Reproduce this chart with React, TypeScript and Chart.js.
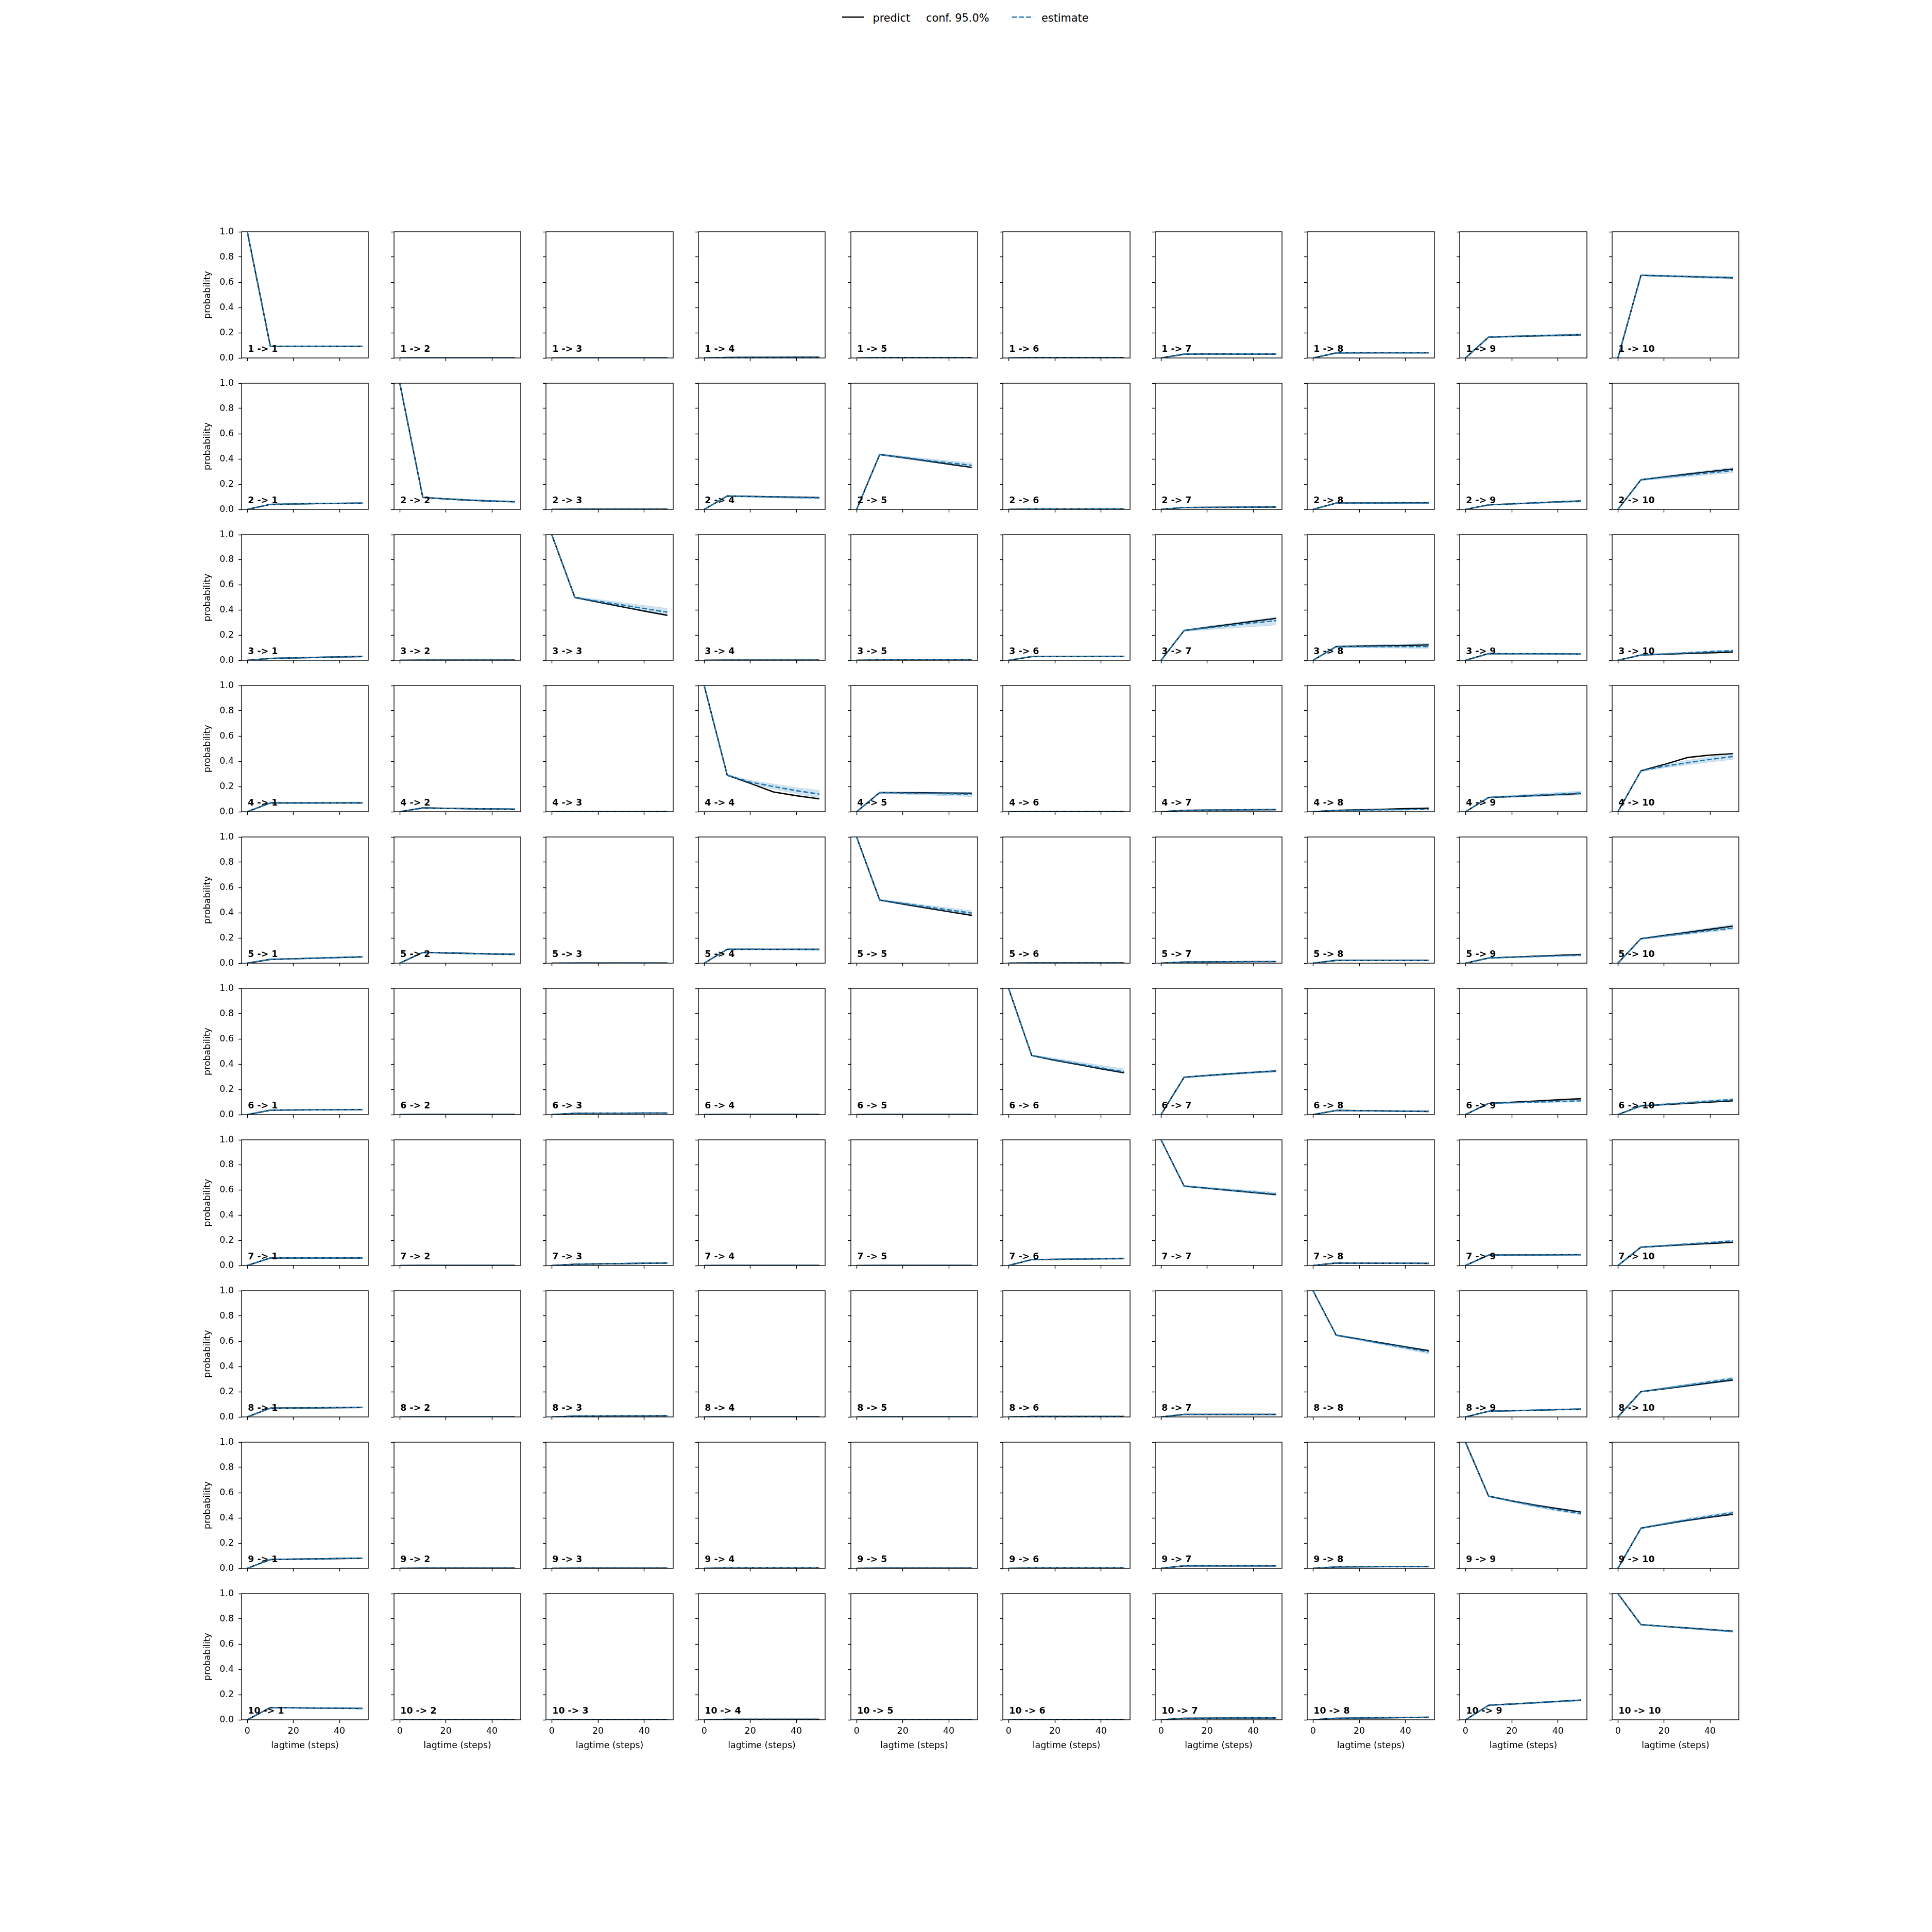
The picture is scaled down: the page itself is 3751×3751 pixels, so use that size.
import React, { useEffect, useRef } from 'react';
import { Chart, registerables } from 'chart.js';

Chart.register(...registerables);

// ---------------- data ----------------
const lagtimes = [0, 10, 20, 30, 40, 50];
const xTicks = [0, 20, 40];
const yTicks = [0, 0.2, 0.4, 0.6, 0.8, 1.0];
const stateNames = ['1', '2', '3', '4', '5', '6', '7', '8', '9', '10'];
const legendLabels = ['predict', 'conf. 95.0%', 'estimate'];
const xAxisTitle = 'lagtime (steps)';
const yAxisTitle = 'probability';

// row i -> column j, values at lagtimes
const predictFrom1 = [
  [1, 0.093, 0.093, 0.093, 0.092, 0.092],
  [0, 0.001, 0.001, 0.001, 0.001, 0.001],
  [0, 0.001, 0.001, 0.001, 0.001, 0.001],
  [0, 0.004, 0.005, 0.005, 0.006, 0.006],
  [0, 0.003, 0.003, 0.003, 0.003, 0.003],
  [0, 0.003, 0.003, 0.003, 0.003, 0.003],
  [0, 0.03, 0.031, 0.031, 0.031, 0.031],
  [0, 0.04, 0.041, 0.041, 0.041, 0.041],
  [0, 0.165, 0.17, 0.175, 0.179, 0.183],
  [0, 0.655, 0.65, 0.645, 0.64, 0.635],
];
const estimateFrom1 = [
  [1, 0.093, 0.093, 0.093, 0.093, 0.093],
  [0, 0.001, 0.001, 0.001, 0.001, 0.001],
  [0, 0.001, 0.001, 0.001, 0.001, 0.001],
  [0, 0.004, 0.005, 0.005, 0.006, 0.006],
  [0, 0.003, 0.003, 0.003, 0.003, 0.003],
  [0, 0.003, 0.003, 0.003, 0.003, 0.003],
  [0, 0.03, 0.03, 0.031, 0.031, 0.031],
  [0, 0.04, 0.04, 0.041, 0.041, 0.041],
  [0, 0.165, 0.171, 0.176, 0.18, 0.184],
  [0, 0.655, 0.65, 0.645, 0.64, 0.636],
];
const lowerFrom1 = [
  [1, 0.09, 0.089, 0.089, 0.088, 0.088],
  [0, 0, 0, 0, 0, 0],
  [0, 0, 0, 0, 0, 0],
  [0, 0.002, 0.003, 0.003, 0.003, 0.003],
  [0, 0.001, 0.001, 0.001, 0.001, 0.001],
  [0, 0.001, 0.001, 0.001, 0.001, 0.001],
  [0, 0.027, 0.027, 0.027, 0.027, 0.027],
  [0, 0.037, 0.037, 0.037, 0.037, 0.037],
  [0, 0.16, 0.165, 0.169, 0.172, 0.175],
  [0, 0.65, 0.643, 0.637, 0.631, 0.626],
];
const upperFrom1 = [
  [1, 0.096, 0.097, 0.097, 0.098, 0.098],
  [0, 0.002, 0.002, 0.002, 0.002, 0.002],
  [0, 0.002, 0.002, 0.002, 0.002, 0.002],
  [0, 0.006, 0.007, 0.008, 0.008, 0.009],
  [0, 0.005, 0.005, 0.005, 0.005, 0.005],
  [0, 0.005, 0.005, 0.005, 0.005, 0.005],
  [0, 0.033, 0.034, 0.035, 0.035, 0.035],
  [0, 0.043, 0.044, 0.045, 0.045, 0.045],
  [0, 0.17, 0.177, 0.183, 0.188, 0.193],
  [0, 0.66, 0.657, 0.653, 0.649, 0.646],
];

const predictFrom2 = [
  [0, 0.04, 0.043, 0.046, 0.048, 0.05],
  [1, 0.095, 0.083, 0.073, 0.066, 0.06],
  [0, 0.002, 0.002, 0.002, 0.002, 0.002],
  [0, 0.106, 0.103, 0.1, 0.097, 0.094],
  [0, 0.435, 0.41, 0.385, 0.358, 0.333],
  [0, 0.003, 0.003, 0.003, 0.003, 0.003],
  [0, 0.015, 0.016, 0.017, 0.018, 0.019],
  [0, 0.05, 0.051, 0.051, 0.052, 0.052],
  [0, 0.036, 0.044, 0.052, 0.06, 0.067],
  [0, 0.235, 0.257, 0.279, 0.3, 0.32],
];
const estimateFrom2 = [
  [0, 0.04, 0.043, 0.046, 0.048, 0.05],
  [1, 0.095, 0.083, 0.074, 0.067, 0.061],
  [0, 0.002, 0.002, 0.002, 0.002, 0.002],
  [0, 0.106, 0.102, 0.098, 0.094, 0.091],
  [0, 0.435, 0.413, 0.39, 0.369, 0.349],
  [0, 0.003, 0.003, 0.003, 0.003, 0.003],
  [0, 0.015, 0.016, 0.017, 0.018, 0.019],
  [0, 0.05, 0.05, 0.051, 0.051, 0.051],
  [0, 0.036, 0.043, 0.051, 0.058, 0.065],
  [0, 0.235, 0.254, 0.272, 0.29, 0.308],
];
const lowerFrom2 = [
  [0, 0.037, 0.039, 0.041, 0.043, 0.045],
  [1, 0.091, 0.078, 0.068, 0.061, 0.055],
  [0, 0.001, 0.001, 0.001, 0.001, 0.001],
  [0, 0.1, 0.096, 0.091, 0.087, 0.083],
  [0, 0.428, 0.403, 0.38, 0.355, 0.333],
  [0, 0.001, 0.001, 0.001, 0.001, 0.001],
  [0, 0.012, 0.013, 0.014, 0.014, 0.015],
  [0, 0.046, 0.046, 0.046, 0.046, 0.046],
  [0, 0.033, 0.039, 0.046, 0.052, 0.058],
  [0, 0.228, 0.243, 0.258, 0.274, 0.29],
];
const upperFrom2 = [
  [0, 0.043, 0.047, 0.051, 0.053, 0.055],
  [1, 0.099, 0.088, 0.08, 0.073, 0.067],
  [0, 0.003, 0.003, 0.003, 0.003, 0.003],
  [0, 0.112, 0.108, 0.105, 0.101, 0.099],
  [0, 0.442, 0.422, 0.403, 0.385, 0.368],
  [0, 0.005, 0.005, 0.005, 0.005, 0.005],
  [0, 0.018, 0.019, 0.02, 0.022, 0.023],
  [0, 0.054, 0.055, 0.056, 0.056, 0.057],
  [0, 0.039, 0.047, 0.056, 0.064, 0.072],
  [0, 0.242, 0.265, 0.288, 0.311, 0.333],
];

const predictFrom3 = [
  [0, 0.015, 0.019, 0.023, 0.027, 0.03],
  [0, 0.002, 0.002, 0.002, 0.002, 0.002],
  [1, 0.5, 0.463, 0.427, 0.392, 0.358],
  [0, 0.002, 0.002, 0.002, 0.002, 0.002],
  [0, 0.004, 0.004, 0.004, 0.004, 0.004],
  [0, 0.03, 0.031, 0.031, 0.032, 0.032],
  [0, 0.237, 0.262, 0.286, 0.31, 0.334],
  [0, 0.109, 0.112, 0.116, 0.119, 0.122],
  [0, 0.053, 0.052, 0.052, 0.051, 0.05],
  [0, 0.042, 0.048, 0.054, 0.06, 0.066],
];
const estimateFrom3 = [
  [0, 0.015, 0.019, 0.023, 0.027, 0.031],
  [0, 0.002, 0.002, 0.002, 0.002, 0.002],
  [1, 0.5, 0.47, 0.442, 0.412, 0.383],
  [0, 0.002, 0.002, 0.002, 0.002, 0.002],
  [0, 0.004, 0.004, 0.004, 0.004, 0.004],
  [0, 0.03, 0.031, 0.031, 0.032, 0.032],
  [0, 0.237, 0.257, 0.277, 0.297, 0.316],
  [0, 0.109, 0.109, 0.109, 0.109, 0.109],
  [0, 0.053, 0.052, 0.052, 0.051, 0.05],
  [0, 0.042, 0.051, 0.06, 0.069, 0.077],
];
const lowerFrom3 = [
  [0, 0.012, 0.015, 0.018, 0.022, 0.025],
  [0, 0.001, 0.001, 0.001, 0.001, 0.001],
  [1, 0.493, 0.458, 0.425, 0.393, 0.363],
  [0, 0.001, 0.001, 0.001, 0.001, 0.001],
  [0, 0.002, 0.002, 0.002, 0.002, 0.002],
  [0, 0.027, 0.027, 0.027, 0.028, 0.028],
  [0, 0.23, 0.243, 0.256, 0.268, 0.281],
  [0, 0.102, 0.1, 0.098, 0.096, 0.094],
  [0, 0.049, 0.048, 0.047, 0.046, 0.045],
  [0, 0.039, 0.047, 0.055, 0.063, 0.07],
];
const upperFrom3 = [
  [0, 0.018, 0.023, 0.028, 0.032, 0.037],
  [0, 0.003, 0.003, 0.003, 0.003, 0.003],
  [1, 0.507, 0.484, 0.46, 0.436, 0.413],
  [0, 0.003, 0.003, 0.003, 0.003, 0.003],
  [0, 0.006, 0.006, 0.006, 0.006, 0.006],
  [0, 0.033, 0.035, 0.035, 0.036, 0.036],
  [0, 0.244, 0.27, 0.295, 0.32, 0.344],
  [0, 0.116, 0.12, 0.125, 0.13, 0.134],
  [0, 0.057, 0.056, 0.057, 0.056, 0.055],
  [0, 0.045, 0.055, 0.065, 0.075, 0.084],
];

const predictFrom4 = [
  [0, 0.07, 0.07, 0.07, 0.07, 0.07],
  [0, 0.03, 0.027, 0.024, 0.022, 0.02],
  [0, 0.002, 0.002, 0.002, 0.002, 0.002],
  [1, 0.29, 0.225, 0.157, 0.127, 0.102],
  [0, 0.152, 0.151, 0.15, 0.148, 0.147],
  [0, 0.003, 0.003, 0.003, 0.003, 0.003],
  [0, 0.011, 0.013, 0.014, 0.016, 0.017],
  [0, 0.011, 0.015, 0.019, 0.024, 0.028],
  [0, 0.113, 0.12, 0.128, 0.136, 0.144],
  [0, 0.324, 0.374, 0.429, 0.449, 0.46],
];
const estimateFrom4 = [
  [0, 0.07, 0.07, 0.07, 0.071, 0.071],
  [0, 0.03, 0.027, 0.024, 0.022, 0.021],
  [0, 0.002, 0.002, 0.002, 0.002, 0.002],
  [1, 0.29, 0.235, 0.2, 0.167, 0.14],
  [0, 0.152, 0.148, 0.145, 0.142, 0.139],
  [0, 0.003, 0.003, 0.003, 0.003, 0.003],
  [0, 0.011, 0.013, 0.014, 0.016, 0.017],
  [0, 0.011, 0.013, 0.015, 0.017, 0.019],
  [0, 0.113, 0.122, 0.131, 0.14, 0.149],
  [0, 0.324, 0.36, 0.388, 0.415, 0.438],
];
const lowerFrom4 = [
  [0, 0.066, 0.066, 0.065, 0.065, 0.065],
  [0, 0.027, 0.024, 0.021, 0.019, 0.017],
  [0, 0.001, 0.001, 0.001, 0.001, 0.001],
  [1, 0.283, 0.222, 0.18, 0.143, 0.11],
  [0, 0.146, 0.139, 0.133, 0.126, 0.12],
  [0, 0.001, 0.001, 0.001, 0.001, 0.001],
  [0, 0.009, 0.01, 0.011, 0.012, 0.013],
  [0, 0.009, 0.01, 0.012, 0.013, 0.015],
  [0, 0.108, 0.114, 0.12, 0.127, 0.133],
  [0, 0.318, 0.347, 0.37, 0.394, 0.415],
];
const upperFrom4 = [
  [0, 0.074, 0.074, 0.075, 0.077, 0.077],
  [0, 0.033, 0.03, 0.027, 0.025, 0.025],
  [0, 0.003, 0.003, 0.003, 0.003, 0.003],
  [1, 0.297, 0.248, 0.22, 0.19, 0.17],
  [0, 0.158, 0.157, 0.156, 0.154, 0.152],
  [0, 0.005, 0.005, 0.005, 0.005, 0.005],
  [0, 0.013, 0.016, 0.017, 0.02, 0.021],
  [0, 0.013, 0.016, 0.018, 0.021, 0.023],
  [0, 0.118, 0.13, 0.142, 0.153, 0.163],
  [0, 0.33, 0.372, 0.407, 0.436, 0.46],
];

const predictFrom5 = [
  [0, 0.03, 0.035, 0.04, 0.045, 0.05],
  [0, 0.085, 0.081, 0.077, 0.073, 0.07],
  [0, 0.001, 0.001, 0.001, 0.001, 0.001],
  [0, 0.11, 0.11, 0.11, 0.11, 0.11],
  [1, 0.5, 0.469, 0.438, 0.408, 0.379],
  [0, 0.002, 0.002, 0.002, 0.002, 0.002],
  [0, 0.009, 0.01, 0.011, 0.012, 0.012],
  [0, 0.022, 0.022, 0.022, 0.022, 0.022],
  [0, 0.041, 0.048, 0.055, 0.062, 0.069],
  [0, 0.194, 0.219, 0.244, 0.269, 0.294],
];
const estimateFrom5 = [
  [0, 0.03, 0.035, 0.04, 0.045, 0.05],
  [0, 0.085, 0.081, 0.077, 0.073, 0.07],
  [0, 0.001, 0.001, 0.001, 0.001, 0.001],
  [0, 0.11, 0.11, 0.109, 0.109, 0.108],
  [1, 0.5, 0.474, 0.448, 0.422, 0.397],
  [0, 0.002, 0.002, 0.002, 0.002, 0.002],
  [0, 0.009, 0.01, 0.011, 0.012, 0.012],
  [0, 0.022, 0.022, 0.022, 0.022, 0.022],
  [0, 0.041, 0.047, 0.052, 0.058, 0.063],
  [0, 0.194, 0.215, 0.236, 0.258, 0.279],
];
const lowerFrom5 = [
  [0, 0.027, 0.031, 0.035, 0.04, 0.044],
  [0, 0.081, 0.077, 0.072, 0.068, 0.065],
  [0, 0, 0, 0, 0, 0],
  [0, 0.105, 0.104, 0.103, 0.102, 0.101],
  [1, 0.494, 0.464, 0.436, 0.408, 0.382],
  [0, 0.001, 0.001, 0.001, 0.001, 0.001],
  [0, 0.007, 0.008, 0.009, 0.01, 0.01],
  [0, 0.019, 0.019, 0.019, 0.019, 0.019],
  [0, 0.038, 0.043, 0.048, 0.053, 0.057],
  [0, 0.188, 0.208, 0.227, 0.247, 0.266],
];
const upperFrom5 = [
  [0, 0.033, 0.039, 0.045, 0.05, 0.056],
  [0, 0.089, 0.085, 0.082, 0.078, 0.075],
  [0, 0.002, 0.002, 0.002, 0.002, 0.002],
  [0, 0.115, 0.116, 0.115, 0.116, 0.115],
  [1, 0.506, 0.484, 0.461, 0.438, 0.416],
  [0, 0.003, 0.003, 0.003, 0.003, 0.003],
  [0, 0.011, 0.012, 0.013, 0.014, 0.014],
  [0, 0.025, 0.025, 0.025, 0.025, 0.025],
  [0, 0.044, 0.051, 0.057, 0.064, 0.07],
  [0, 0.2, 0.227, 0.253, 0.28, 0.307],
];

const predictFrom6 = [
  [0, 0.035, 0.037, 0.038, 0.039, 0.04],
  [0, 0.001, 0.001, 0.001, 0.001, 0.001],
  [0, 0.01, 0.011, 0.011, 0.012, 0.012],
  [0, 0.001, 0.001, 0.001, 0.001, 0.001],
  [0, 0.001, 0.001, 0.001, 0.001, 0.001],
  [1, 0.468, 0.43, 0.397, 0.362, 0.331],
  [0, 0.296, 0.31, 0.323, 0.335, 0.346],
  [0, 0.033, 0.031, 0.029, 0.027, 0.025],
  [0, 0.089, 0.098, 0.107, 0.117, 0.126],
  [0, 0.069, 0.079, 0.089, 0.099, 0.109],
];
const estimateFrom6 = [
  [0, 0.035, 0.037, 0.038, 0.039, 0.04],
  [0, 0.001, 0.001, 0.001, 0.001, 0.001],
  [0, 0.01, 0.011, 0.011, 0.012, 0.012],
  [0, 0.001, 0.001, 0.001, 0.001, 0.001],
  [0, 0.001, 0.001, 0.001, 0.001, 0.001],
  [1, 0.468, 0.435, 0.403, 0.371, 0.339],
  [0, 0.296, 0.309, 0.322, 0.334, 0.345],
  [0, 0.033, 0.031, 0.029, 0.027, 0.025],
  [0, 0.089, 0.094, 0.099, 0.104, 0.109],
  [0, 0.069, 0.082, 0.094, 0.107, 0.12],
];
const lowerFrom6 = [
  [0, 0.032, 0.033, 0.034, 0.035, 0.035],
  [0, 0, 0, 0, 0, 0],
  [0, 0.008, 0.009, 0.009, 0.009, 0.009],
  [0, 0, 0, 0, 0, 0],
  [0, 0, 0, 0, 0, 0],
  [1, 0.462, 0.427, 0.393, 0.359, 0.326],
  [0, 0.29, 0.302, 0.314, 0.326, 0.336],
  [0, 0.03, 0.028, 0.026, 0.024, 0.022],
  [0, 0.085, 0.089, 0.093, 0.097, 0.101],
  [0, 0.065, 0.076, 0.087, 0.099, 0.11],
];
const upperFrom6 = [
  [0, 0.038, 0.041, 0.042, 0.043, 0.045],
  [0, 0.002, 0.002, 0.002, 0.002, 0.002],
  [0, 0.012, 0.013, 0.013, 0.015, 0.015],
  [0, 0.002, 0.002, 0.002, 0.002, 0.002],
  [0, 0.002, 0.002, 0.002, 0.002, 0.002],
  [1, 0.474, 0.446, 0.418, 0.39, 0.362],
  [0, 0.302, 0.316, 0.33, 0.342, 0.354],
  [0, 0.036, 0.034, 0.032, 0.03, 0.028],
  [0, 0.093, 0.1, 0.106, 0.112, 0.118],
  [0, 0.073, 0.087, 0.101, 0.115, 0.128],
];

const predictFrom7 = [
  [0, 0.06, 0.06, 0.06, 0.06, 0.06],
  [0, 0.001, 0.001, 0.001, 0.001, 0.001],
  [0, 0.01, 0.013, 0.015, 0.018, 0.02],
  [0, 0.001, 0.001, 0.001, 0.001, 0.001],
  [0, 0.001, 0.001, 0.001, 0.001, 0.001],
  [0, 0.047, 0.049, 0.051, 0.053, 0.055],
  [1, 0.632, 0.615, 0.598, 0.581, 0.564],
  [0, 0.02, 0.019, 0.018, 0.018, 0.017],
  [0, 0.083, 0.084, 0.084, 0.085, 0.086],
  [0, 0.146, 0.156, 0.166, 0.175, 0.185],
];
const estimateFrom7 = [
  [0, 0.06, 0.06, 0.06, 0.06, 0.06],
  [0, 0.001, 0.001, 0.001, 0.001, 0.001],
  [0, 0.01, 0.013, 0.015, 0.018, 0.02],
  [0, 0.001, 0.001, 0.001, 0.001, 0.001],
  [0, 0.001, 0.001, 0.001, 0.001, 0.001],
  [0, 0.047, 0.049, 0.052, 0.054, 0.056],
  [1, 0.632, 0.616, 0.6, 0.585, 0.569],
  [0, 0.02, 0.019, 0.018, 0.018, 0.017],
  [0, 0.083, 0.084, 0.084, 0.085, 0.085],
  [0, 0.146, 0.158, 0.171, 0.183, 0.196],
];
const lowerFrom7 = [
  [0, 0.057, 0.056, 0.056, 0.056, 0.055],
  [0, 0, 0, 0, 0, 0],
  [0, 0.008, 0.01, 0.012, 0.014, 0.016],
  [0, 0, 0, 0, 0, 0],
  [0, 0, 0, 0, 0, 0],
  [0, 0.044, 0.045, 0.047, 0.049, 0.05],
  [1, 0.626, 0.608, 0.591, 0.574, 0.558],
  [0, 0.018, 0.017, 0.016, 0.015, 0.014],
  [0, 0.079, 0.08, 0.08, 0.08, 0.08],
  [0, 0.141, 0.153, 0.165, 0.177, 0.189],
];
const upperFrom7 = [
  [0, 0.063, 0.064, 0.064, 0.064, 0.065],
  [0, 0.002, 0.002, 0.002, 0.002, 0.002],
  [0, 0.012, 0.016, 0.018, 0.022, 0.024],
  [0, 0.002, 0.002, 0.002, 0.002, 0.002],
  [0, 0.002, 0.002, 0.002, 0.002, 0.002],
  [0, 0.05, 0.053, 0.057, 0.059, 0.062],
  [1, 0.638, 0.624, 0.61, 0.596, 0.582],
  [0, 0.022, 0.021, 0.02, 0.021, 0.02],
  [0, 0.087, 0.088, 0.088, 0.09, 0.09],
  [0, 0.151, 0.163, 0.177, 0.189, 0.203],
];

const predictFrom8 = [
  [0, 0.07, 0.071, 0.072, 0.074, 0.075],
  [0, 0.001, 0.001, 0.001, 0.001, 0.001],
  [0, 0.006, 0.007, 0.008, 0.008, 0.009],
  [0, 0.001, 0.001, 0.001, 0.001, 0.001],
  [0, 0.001, 0.001, 0.001, 0.001, 0.001],
  [0, 0.004, 0.004, 0.004, 0.004, 0.004],
  [0, 0.02, 0.02, 0.02, 0.02, 0.02],
  [1, 0.648, 0.617, 0.586, 0.555, 0.525],
  [0, 0.045, 0.049, 0.053, 0.058, 0.062],
  [0, 0.2, 0.223, 0.246, 0.27, 0.293],
];
const estimateFrom8 = [
  [0, 0.07, 0.071, 0.072, 0.074, 0.075],
  [0, 0.001, 0.001, 0.001, 0.001, 0.001],
  [0, 0.006, 0.007, 0.008, 0.008, 0.009],
  [0, 0.001, 0.001, 0.001, 0.001, 0.001],
  [0, 0.001, 0.001, 0.001, 0.001, 0.001],
  [0, 0.004, 0.004, 0.004, 0.004, 0.004],
  [0, 0.02, 0.02, 0.02, 0.02, 0.02],
  [1, 0.648, 0.614, 0.581, 0.548, 0.515],
  [0, 0.045, 0.049, 0.054, 0.058, 0.063],
  [0, 0.2, 0.226, 0.252, 0.278, 0.304],
];
const lowerFrom8 = [
  [0, 0.067, 0.067, 0.068, 0.069, 0.07],
  [0, 0, 0, 0, 0, 0],
  [0, 0.004, 0.005, 0.006, 0.006, 0.006],
  [0, 0, 0, 0, 0, 0],
  [0, 0, 0, 0, 0, 0],
  [0, 0.002, 0.002, 0.002, 0.002, 0.002],
  [0, 0.018, 0.018, 0.018, 0.018, 0.018],
  [1, 0.642, 0.607, 0.571, 0.536, 0.5],
  [0, 0.042, 0.045, 0.049, 0.053, 0.057],
  [0, 0.195, 0.218, 0.24, 0.263, 0.285],
];
const upperFrom8 = [
  [0, 0.073, 0.075, 0.076, 0.079, 0.08],
  [0, 0.002, 0.002, 0.002, 0.002, 0.002],
  [0, 0.008, 0.009, 0.01, 0.01, 0.012],
  [0, 0.002, 0.002, 0.002, 0.002, 0.002],
  [0, 0.002, 0.002, 0.002, 0.002, 0.002],
  [0, 0.006, 0.006, 0.006, 0.006, 0.006],
  [0, 0.022, 0.022, 0.022, 0.022, 0.022],
  [1, 0.654, 0.623, 0.592, 0.562, 0.532],
  [0, 0.048, 0.053, 0.059, 0.063, 0.069],
  [0, 0.205, 0.233, 0.261, 0.288, 0.316],
];

const predictFrom9 = [
  [0, 0.07, 0.073, 0.075, 0.078, 0.08],
  [0, 0.002, 0.002, 0.002, 0.002, 0.002],
  [0, 0.002, 0.002, 0.002, 0.002, 0.002],
  [0, 0.003, 0.003, 0.003, 0.003, 0.003],
  [0, 0.002, 0.002, 0.002, 0.002, 0.002],
  [0, 0.003, 0.003, 0.003, 0.003, 0.003],
  [0, 0.02, 0.02, 0.02, 0.02, 0.02],
  [0, 0.011, 0.012, 0.013, 0.014, 0.015],
  [1, 0.572, 0.535, 0.502, 0.473, 0.446],
  [0, 0.318, 0.35, 0.38, 0.405, 0.429],
];
const estimateFrom9 = [
  [0, 0.07, 0.073, 0.075, 0.078, 0.08],
  [0, 0.002, 0.002, 0.002, 0.002, 0.002],
  [0, 0.002, 0.002, 0.002, 0.002, 0.002],
  [0, 0.003, 0.003, 0.003, 0.003, 0.003],
  [0, 0.002, 0.002, 0.002, 0.002, 0.002],
  [0, 0.003, 0.003, 0.003, 0.003, 0.003],
  [0, 0.02, 0.02, 0.02, 0.02, 0.02],
  [0, 0.011, 0.012, 0.013, 0.014, 0.015],
  [1, 0.572, 0.533, 0.496, 0.463, 0.434],
  [0, 0.318, 0.352, 0.385, 0.414, 0.441],
];
const lowerFrom9 = [
  [0, 0.067, 0.069, 0.071, 0.073, 0.075],
  [0, 0.001, 0.001, 0.001, 0.001, 0.001],
  [0, 0.001, 0.001, 0.001, 0.001, 0.001],
  [0, 0.001, 0.001, 0.001, 0.001, 0.001],
  [0, 0.001, 0.001, 0.001, 0.001, 0.001],
  [0, 0.001, 0.001, 0.001, 0.001, 0.001],
  [0, 0.018, 0.018, 0.018, 0.018, 0.018],
  [0, 0.009, 0.01, 0.011, 0.012, 0.012],
  [1, 0.566, 0.525, 0.486, 0.452, 0.425],
  [0, 0.312, 0.344, 0.374, 0.402, 0.428],
];
const upperFrom9 = [
  [0, 0.073, 0.077, 0.079, 0.083, 0.085],
  [0, 0.003, 0.003, 0.003, 0.003, 0.003],
  [0, 0.003, 0.003, 0.003, 0.003, 0.003],
  [0, 0.005, 0.005, 0.005, 0.005, 0.005],
  [0, 0.003, 0.003, 0.003, 0.003, 0.003],
  [0, 0.005, 0.005, 0.005, 0.005, 0.005],
  [0, 0.022, 0.022, 0.022, 0.022, 0.022],
  [0, 0.013, 0.014, 0.015, 0.016, 0.018],
  [1, 0.578, 0.541, 0.506, 0.478, 0.452],
  [0, 0.324, 0.36, 0.395, 0.425, 0.452],
];

const predictFrom10 = [
  [0, 0.097, 0.095, 0.093, 0.092, 0.09],
  [0, 0.001, 0.001, 0.001, 0.001, 0.001],
  [0, 0.002, 0.002, 0.002, 0.002, 0.002],
  [0, 0.004, 0.004, 0.004, 0.004, 0.004],
  [0, 0.001, 0.001, 0.001, 0.001, 0.001],
  [0, 0.003, 0.003, 0.003, 0.003, 0.003],
  [0, 0.012, 0.013, 0.014, 0.015, 0.015],
  [0, 0.012, 0.014, 0.016, 0.018, 0.02],
  [0, 0.115, 0.125, 0.135, 0.146, 0.156],
  [1, 0.754, 0.741, 0.728, 0.715, 0.702],
];
const estimateFrom10 = [
  [0, 0.097, 0.095, 0.093, 0.092, 0.09],
  [0, 0.001, 0.001, 0.001, 0.001, 0.001],
  [0, 0.002, 0.002, 0.002, 0.002, 0.002],
  [0, 0.004, 0.004, 0.004, 0.004, 0.004],
  [0, 0.001, 0.001, 0.001, 0.001, 0.001],
  [0, 0.003, 0.003, 0.003, 0.003, 0.003],
  [0, 0.012, 0.013, 0.014, 0.015, 0.015],
  [0, 0.012, 0.014, 0.016, 0.018, 0.02],
  [0, 0.115, 0.125, 0.135, 0.145, 0.155],
  [1, 0.754, 0.74, 0.726, 0.713, 0.7],
];
const lowerFrom10 = [
  [0, 0.094, 0.091, 0.089, 0.087, 0.085],
  [0, 0, 0, 0, 0, 0],
  [0, 0.001, 0.001, 0.001, 0.001, 0.001],
  [0, 0.002, 0.002, 0.002, 0.002, 0.002],
  [0, 0, 0, 0, 0, 0],
  [0, 0.001, 0.001, 0.001, 0.001, 0.001],
  [0, 0.01, 0.011, 0.011, 0.012, 0.012],
  [0, 0.01, 0.011, 0.013, 0.014, 0.016],
  [0, 0.111, 0.12, 0.129, 0.139, 0.148],
  [1, 0.75, 0.735, 0.72, 0.706, 0.692],
];
const upperFrom10 = [
  [0, 0.1, 0.099, 0.097, 0.097, 0.095],
  [0, 0.002, 0.002, 0.002, 0.002, 0.002],
  [0, 0.003, 0.003, 0.003, 0.003, 0.003],
  [0, 0.006, 0.006, 0.006, 0.006, 0.006],
  [0, 0.002, 0.002, 0.002, 0.002, 0.002],
  [0, 0.005, 0.005, 0.005, 0.005, 0.005],
  [0, 0.014, 0.015, 0.017, 0.018, 0.018],
  [0, 0.014, 0.017, 0.019, 0.022, 0.024],
  [0, 0.119, 0.13, 0.141, 0.151, 0.162],
  [1, 0.758, 0.745, 0.732, 0.72, 0.708],
];

const PREDICT = [predictFrom1, predictFrom2, predictFrom3, predictFrom4, predictFrom5, predictFrom6, predictFrom7, predictFrom8, predictFrom9, predictFrom10];
const ESTIMATE = [estimateFrom1, estimateFrom2, estimateFrom3, estimateFrom4, estimateFrom5, estimateFrom6, estimateFrom7, estimateFrom8, estimateFrom9, estimateFrom10];
const LOWER = [lowerFrom1, lowerFrom2, lowerFrom3, lowerFrom4, lowerFrom5, lowerFrom6, lowerFrom7, lowerFrom8, lowerFrom9, lowerFrom10];
const UPPER = [upperFrom1, upperFrom2, upperFrom3, upperFrom4, upperFrom5, upperFrom6, upperFrom7, upperFrom8, upperFrom9, upperFrom10];

// ---------------- layout / style ----------------
const FIG = 3751;
const AX_LEFT0 = 468.9;
const COL_STEP = 295.65;
const AX_W = 246.4;
const AX_TOP0 = 450.1;
const ROW_STEP = 293.76;
const AX_H = 244.8;
const FONT = '"DejaVu Sans", sans-serif';
const FS = 17.4;
const LEGEND_FS = 20.8;
const LW = 2.6;
const SPINE_W = 1.39;
const BLUE = '#1f77b4';
const BAND = 'rgba(31,119,180,0.2)';

Chart.defaults.font.family = FONT;
Chart.defaults.color = '#000';

const framePlugin = {
  id: 'frame',
  afterDatasetsDraw(chart: any, _args: any, opts: any) {
    const { ctx, chartArea: a } = chart;
    ctx.save();
    ctx.strokeStyle = '#000';
    ctx.lineWidth = SPINE_W;
    ctx.strokeRect(a.left, a.top, a.right - a.left, a.bottom - a.top);
    ctx.font = `bold ${FS}px ${FONT}`;
    ctx.fillStyle = '#000';
    ctx.textAlign = 'left';
    ctx.textBaseline = 'alphabetic';
    ctx.fillText(opts.label, a.left + 0.05 * (a.right - a.left), a.bottom - 0.05 * (a.bottom - a.top));
    ctx.restore();
  },
};

const pts = (arr: number[]) => lagtimes.map((x, i) => ({ x, y: arr[i] }));

function Subplot({ r, c }: { r: number; c: number }) {
  const ref = useRef<HTMLCanvasElement>(null);
  const axL = Math.round(AX_LEFT0 + c * COL_STEP);
  const axR = Math.round(AX_LEFT0 + AX_W + c * COL_STEP);
  const axT = Math.round(AX_TOP0 + r * ROW_STEP);
  const axB = Math.round(AX_TOP0 + AX_H + r * ROW_STEP);
  const padL = c === 0 ? 90 : 12;
  const padR = 12;
  const padT = 24;
  const padB = r === 9 ? 72 : 24;
  const w = axR - axL + padL + padR;
  const h = axB - axT + padT + padB;

  useEffect(() => {
    const P = PREDICT[r][c];
    const E = ESTIMATE[r][c];
    const L = LOWER[r][c];
    const U = UPPER[r][c];
    const tickGrid = {
      display: true,
      drawOnChartArea: false,
      drawTicks: true,
      tickLength: 6,
      tickWidth: SPINE_W,
      tickColor: '#000',
    };
    const chart = new Chart(ref.current as HTMLCanvasElement, {
      type: 'line',
      data: {
        datasets: [
          { label: legendLabels[0], data: pts(P), borderColor: '#000', borderWidth: LW, pointRadius: 0, fill: false, order: 3, clip: 0, borderJoinStyle: 'round' },
          { label: 'lower', data: pts(L), borderColor: BAND, borderWidth: 1, pointRadius: 0, fill: false, order: 2, clip: 0 },
          { label: legendLabels[1], data: pts(U), borderColor: BAND, borderWidth: 1, backgroundColor: BAND, pointRadius: 0, fill: '-1', order: 2, clip: 0 },
          { label: legendLabels[2], data: pts(E), borderColor: BLUE, borderWidth: LW, borderDash: [9.6, 4.2], pointRadius: 0, fill: false, order: 0, clip: 0, borderJoinStyle: 'round' },
        ],
      } as any,
      options: {
        responsive: false,
        animation: false,
        devicePixelRatio: 1,
        events: [],
        layout: { padding: { left: 0, right: padR, top: padT, bottom: 0 }, autoPadding: true },
        plugins: {
          legend: { display: false },
          tooltip: { enabled: false },
          frame: { label: `${stateNames[r]} -> ${stateNames[c]}` },
        } as any,
        scales: {
          x: {
            type: 'linear',
            min: -2.5,
            max: 52.5,
            afterBuildTicks: (s: any) => { s.ticks = xTicks.map((v) => ({ value: v })); },
            afterFit: (s: any) => { s.height = padB; },
            ticks: { display: r === 9, padding: 6, color: '#000', font: { family: FONT, size: FS }, maxRotation: 0, autoSkip: false },
            grid: tickGrid,
            border: { display: false },
            title: {
              display: r === 9,
              text: xAxisTitle,
              color: '#000',
              font: { family: FONT, size: FS, lineHeight: 1.2 },
              padding: { top: 0, bottom: padB - 50 - 10.44 },
            },
          },
          y: {
            type: 'linear',
            min: 0,
            max: 1,
            afterBuildTicks: (s: any) => { s.ticks = yTicks.map((v) => ({ value: v })); },
            afterFit: (s: any) => { s.width = padL; },
            ticks: {
              display: c === 0,
              padding: 9,
              color: '#000',
              font: { family: FONT, size: FS },
              callback: (v: any) => Number(v).toFixed(1),
            },
            grid: tickGrid,
            border: { display: false },
            title: {
              display: c === 0,
              text: yAxisTitle,
              color: '#000',
              font: { family: FONT, size: FS, lineHeight: 1.2 },
              padding: { top: padL - 65.5 - 10.44, bottom: 0 },
            },
          },
        } as any,
      },
      plugins: [framePlugin as any],
    });
    return () => chart.destroy();
  }, []);

  return (
    <canvas
      ref={ref}
      width={w}
      height={h}
      style={{ position: 'absolute', left: axL - padL, top: axT - padT, width: w, height: h }}
    />
  );
}

function Legend() {
  const textStyle: React.CSSProperties = {
    position: 'absolute',
    top: 22.7,
    fontFamily: FONT,
    fontSize: LEGEND_FS,
    lineHeight: '24.2px',
    whiteSpace: 'nowrap',
    color: '#000',
  };
  return (
    <>
      <svg style={{ position: 'absolute', left: 0, top: 0 }} width={FIG} height={70}>
        <line x1={1635} y1={33.2} x2={1677.6} y2={33.2} stroke="#000" strokeWidth={LW} />
        <line x1={1964.6} y1={33.2} x2={2006.2} y2={33.2} stroke={BLUE} strokeWidth={LW} strokeDasharray="9.6 4.2" />
      </svg>
      <div style={{ ...textStyle, left: 1694.5 }}>{legendLabels[0]}</div>
      <div style={{ ...textStyle, left: 1798 }}>{legendLabels[1]}</div>
      <div style={{ ...textStyle, left: 2022 }}>{legendLabels[2]}</div>
    </>
  );
}

export default function App() {
  const cells = [];
  for (let r = 0; r < 10; r++) {
    for (let c = 0; c < 10; c++) {
      cells.push(<Subplot key={`${r}-${c}`} r={r} c={c} />);
    }
  }
  return (
    <div style={{ position: 'absolute', left: 0, top: 0, width: FIG, height: FIG, background: '#fff', overflow: 'hidden' }}>
      <Legend />
      {cells}
    </div>
  );
}
